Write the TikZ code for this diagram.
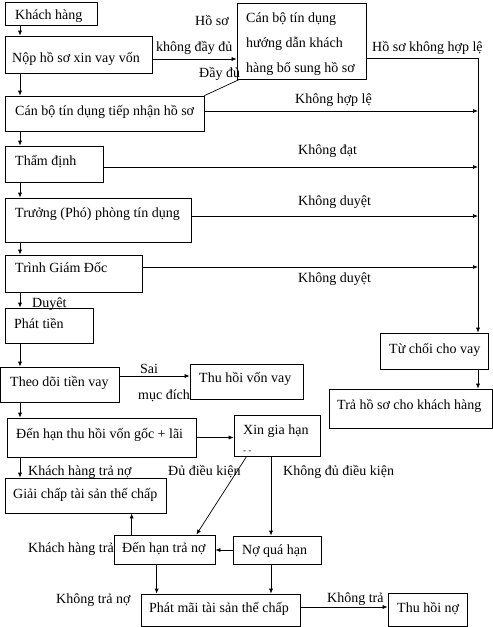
\documentclass[tikz,border=0pt]{standalone}
\usepackage{fontspec}
\setmainfont{Liberation Serif}
\usetikzlibrary{fit,arrows.meta}
\newcommand\bx[5]{\node[box, fit={(#2,#3) (#4,#5)}] (#1) {};}
\begin{document}
\begin{tikzpicture}[x=1pt,y=-1pt,
  box/.style={draw, line width=0.7pt, inner sep=0pt},
  txt/.style={anchor=base west, inner sep=0pt, font=\fontsize{14}{16}\selectfont},
  arr/.style={line width=0.7pt, -{Latex[length=5pt,width=4pt]}},
  ln/.style={line width=0.7pt}]
\useasboundingbox (0,0) rectangle (493,627);
% boxes
\bx{kh}{5}{2}{97}{25}
\bx{nop}{5}{36}{152}{73}
\bx{hd}{237}{3}{366}{79}
\bx{tn}{5}{96}{204}{131}
\bx{td}{5}{146}{103}{182}
\bx{tp}{5}{198}{191}{242}
\bx{gd}{5}{255}{142}{292}
\bx{pt}{5}{308}{93}{343}
\bx{tdv}{0}{367}{119}{402}
\bx{thv}{190}{364}{303}{399}
\bx{dh}{7}{418}{196}{457}
\bx{xgh}{234}{415}{320}{456}
\bx{gc}{5}{478}{166}{513}
\bx{dht}{114}{535}{215}{564}
\bx{nqh}{233}{536}{321}{564}
\bx{pm}{141}{594}{300}{626}
\bx{thn}{388}{593}{467}{626}
\bx{tc}{380}{333}{488}{369}
\bx{tra}{329}{389}{492}{428}
% box texts
\node[txt] (t-kh) at (15,19) {Khách hàng};
\node[txt] (t-nop) at (12,62) {Nộp hồ sơ xin vay vốn};
\node[txt] (t-hd1) at (246,22) {Cán bộ tín dụng};
\node[txt] (t-hd2) at (246,47) {hướng dẫn khách};
\node[txt] (t-hd3) at (246,72) {hàng bổ sung hồ sơ};
\node[txt] (t-tn) at (15,115) {Cán bộ tín dụng tiếp nhận hồ sơ};
\node[txt] (t-td) at (15,165) {Thẩm định};
\node[txt] (t-tp) at (15,217) {Trưởng (Phó) phòng tín dụng};
\node[txt] (t-gd) at (15,272) {Trình Giám Đốc};
\node[txt] (t-pt) at (14,328) {Phát tiền};
\node[txt] (t-tdv) at (10,386) {Theo dõi tiền vay};
\node[txt] (t-thv) at (199,382) {Thu hồi vốn vay};
\node[txt] (t-dh) at (16,438) {Đến hạn thu hồi vốn gốc + lãi};
\node[txt] (t-xgh) at (243,434) {Xin gia hạn};
\node[txt, font=\fontsize{9}{10}\selectfont] (t-xgh2) at (243,453) {- -};
\node[txt] (t-gc) at (13,498) {Giải chấp tài sản thế chấp};
\node[txt] (t-dht) at (122,552) {Đến hạn trả nợ};
\node[txt] (t-nqh) at (242,554) {Nợ quá hạn};
\node[txt] (t-pm) at (149,612) {Phát mãi tài sản thế chấp};
\node[txt] (t-thn) at (397,612) {Thu hồi nợ};
\node[txt] (t-tc) at (389,353) {Từ chối cho vay};
\node[txt] (t-tra) at (337,409) {Trả hồ sơ cho khách hàng};
% labels
\node[txt] (l1) at (195,25) {Hồ sơ};
\node[txt] (l2) at (156,51) {không đầy đủ};
\node[txt] (l3) at (199,77) {Đầy đủ};
\node[txt] (l4) at (372,51) {Hồ sơ không hợp lệ};
\node[txt] (l5) at (295,103) {Không hợp lệ};
\node[txt] (l6) at (298,154) {Không đạt};
\node[txt] (l7) at (298,205) {Không duyệt};
\node[txt] (l8) at (298,282) {Không duyệt};
\node[txt] (l9) at (32,307) {Duyệt};
\node[txt] (l10) at (140,373) {Sai};
\node[txt] (l11) at (138,399) {mục đích};
\node[txt] (l12) at (28,475) {Khách hàng trả nợ};
\node[txt] (l13) at (168,475) {Đủ điều kiện};
\node[txt] (l14) at (283,475) {Không đủ điều kiện};
\node[txt] (l15) at (28,552) {Khách hàng trả};
\node[txt] (l16) at (56,603) {Không trả nợ};
\node[txt] (l17) at (327,602) {Không trả};
% helper coordinates
\coordinate (xl) at (20,0);
\coordinate (xr) at (478,0);
% left chain
\draw[arr] (kh.south -| xl) -- (nop.north -| xl);
\draw[arr] (nop.south -| xl) -- (tn.north -| xl);
\draw[arr] (tn.south -| xl) -- (td.north -| xl);
\draw[arr] (td.south -| xl) -- (tp.north -| xl);
\draw[arr] (tp.south -| xl) -- (gd.north -| xl);
\draw[arr] (gd.south -| xl) -- (pt.north -| xl);
\draw[arr] (pt.south -| xl) -- (tdv.north -| xl);
\draw[arr] (tdv.south -| xl) -- (dh.north -| xl);
\draw[arr] (dh.south -| xl) -- (gc.north -| xl);
% top part
\coordinate (a0) at ([yshift=-4.5pt]nop.east);
\draw[arr] (a0) -- (a0 -| hd.west);
\draw[ln] ([xshift=3pt]hd.south west) -- (tn.north east);
\coordinate (b1) at ([yshift=-17pt]hd.east);
\draw[arr] (b1) -| (tc.north -| xr);
\coordinate (a1) at ([yshift=2.5pt]tn.east);
\draw[arr] (a1) -- (a1 -| xr);
\coordinate (a2) at ([yshift=-3pt]td.east);
\draw[arr] (a2) -- (a2 -| xr);
\coordinate (a3) at ([yshift=4pt]tp.east);
\draw[arr] (a3) -- (a3 -| xr);
\coordinate (a4) at ([yshift=6.5pt]gd.east);
\draw[arr] (a4) -- (a4 -| xr);
\draw[arr] (tc.south -| xr) -- (tra.north -| xr);
% lower part
\coordinate (c1) at ([yshift=8.5pt]tdv.east);
\draw[arr] (c1) -- (c1 -| thv.west);
\draw[arr] (dh.east) -- (dh.east -| xgh.west);
\draw[arr] ([xshift=13pt]xgh.south west) -- ([xshift=-19pt]dht.north east);
\coordinate (c2) at ([xshift=-6pt]xgh.south);
\draw[arr] (c2) -- (c2 |- nqh.north);
\draw[arr] (nqh.west) -- (nqh.west -| dht.east);
\coordinate (c3) at ([xshift=18pt]dht.north west);
\draw[arr] (c3) -- (c3 |- gc.south);
\coordinate (c4) at ([xshift=43pt]dht.south west);
\draw[arr] (c4) -- (c4 |- pm.north);
\coordinate (c5) at ([xshift=-6pt]nqh.south);
\draw[arr] (c5) -- (c5 |- pm.north);
\coordinate (c6) at ([yshift=3pt]pm.east);
\draw[arr] (c6) -- (c6 -| thn.west);
\end{tikzpicture}
\end{document}
